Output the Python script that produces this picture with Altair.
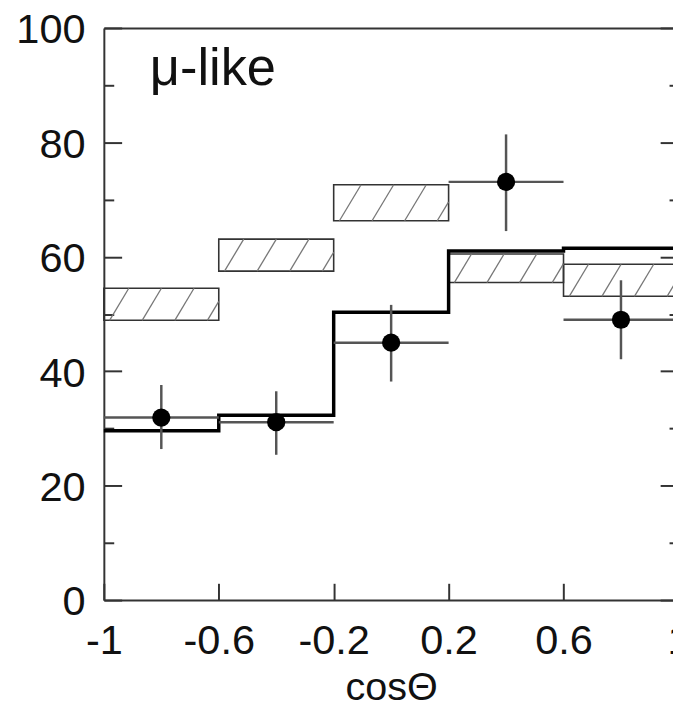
import altair as alt
import pandas as pd

# ---- data ----
bin_lo = [-1.0, -0.6, -0.2, 0.2, 0.6]
bin_hi = [-0.6, -0.2, 0.2, 0.6, 1.0]
bin_center = [-0.8, -0.4, 0.0, 0.4, 0.8]
box_lo = [48.9, 57.5, 66.3, 55.5, 53.1]     # hatched band lower edge
box_hi = [54.5, 63.1, 72.6, 60.5, 58.7]     # hatched band upper edge
thick = [29.6, 32.3, 50.3, 61.0, 61.5]      # thick histogram
data_y = [31.9, 31.1, 45.0, 73.1, 49.0]     # data points
err_lo = [26.4, 25.4, 38.2, 64.5, 42.1]
err_hi = [37.6, 36.5, 51.6, 81.4, 55.9]
edges = [-1.0, -0.6, -0.2, 0.2, 0.6, 1.0]

x_ticks = [-1.0, -0.6, -0.2, 0.2, 0.6, 1.0]
y_major = [0, 20, 40, 60, 80, 100]
y_minor = [10, 30, 50, 70, 90]

# ---- layout constants ----
X_RANGE = 581.5     # full -1..1 span in px (the right edge falls outside the window)
W, H = 576, 579     # visible view
FONT = "Liberation Sans"
INK = "#333"

boxes = pd.DataFrame({"lo": bin_lo, "hi": bin_hi, "ylo": box_lo, "yhi": box_hi})
step = pd.DataFrame({"x": edges, "y": thick + [thick[-1]]})
pts = pd.DataFrame({"xc": bin_center, "lo": bin_lo, "hi": bin_hi,
                    "y": data_y, "elo": err_lo, "ehi": err_hi})

# hatch segments derived from the band boxes (a fill pattern)
px_x = X_RANGE / 2.0
px_y = H / 100.0
spacing = 33 / px_x
rows = []
for x0, x1, lo, hi in zip(bin_lo, bin_hi, box_lo, box_hi):
    dx = 0.6 * (hi - lo) * px_y / px_x
    k = -3
    while True:
        xb = x0 + 0.02 + k * spacing
        k += 1
        if xb > x1:
            break
        t0 = max(0.0, (x0 - xb) / dx)
        t1 = min(1.0, (x1 - xb) / dx)
        if t1 <= t0:
            continue
        rows.append({"x": xb + t0 * dx, "y": lo + t0 * (hi - lo),
                     "x2": xb + t1 * dx, "y2": lo + t1 * (hi - lo)})
hatch = pd.DataFrame(rows)

xs = alt.Scale(domain=[-1, 1], range=[0, X_RANGE], nice=False, zero=False)
ys = alt.Scale(domain=[0, 100], nice=False, zero=False)

# axes: labelled / tick axes drawn inward via negative offsets, spines separate
x_main = alt.Axis(orient="bottom", values=x_ticks, offset=-17, tickSize=17,
                  domain=False, labelPadding=21,
                  labelExpr="'' + datum.value", title="cosΘ",
                  titleBaseline="alphabetic", titleY=118)
x_bottom_spine = alt.Axis(orient="bottom", ticks=False, labels=False,
                          domain=True, title=None)
x_top_spine = alt.Axis(orient="top", ticks=False, labels=False,
                       domain=True, title=None)
y_left = alt.Axis(orient="left", values=y_major, offset=-18, tickSize=18,
                  domain=False, labelPadding=19, labelOffset=2, title=None)
y_left_minor = alt.Axis(orient="left", values=y_minor, offset=-10, tickSize=10,
                        domain=False, labels=False, title=None)
y_left_spine = alt.Axis(orient="left", ticks=False, labels=False,
                        domain=True, title=None)
y_right = alt.Axis(orient="right", values=y_major, offset=-13, tickSize=13,
                   domain=False, labels=False, title=None)
y_right_minor = alt.Axis(orient="right", values=y_minor, offset=-4, tickSize=4,
                         domain=False, labels=False, title=None)

band = alt.Chart(boxes).mark_rect(fill="white", fillOpacity=0, stroke=INK,
                                  strokeWidth=1.6).encode(
    x=alt.X("lo:Q", scale=xs, axis=x_main),
    x2="hi:Q",
    y=alt.Y("ylo:Q", scale=ys, axis=y_left),
    y2="yhi:Q",
)

hatch_l = alt.Chart(hatch).mark_rule(color="#777", strokeWidth=1.3).encode(
    x=alt.X("x:Q", scale=xs, axis=x_bottom_spine),
    x2="x2:Q",
    y=alt.Y("y:Q", scale=ys, axis=y_left_minor),
    y2="y2:Q",
)

hist = alt.Chart(step).mark_line(interpolate="step-after", color="black",
                                 strokeWidth=3.5).encode(
    x=alt.X("x:Q", scale=xs, axis=x_top_spine),
    y=alt.Y("y:Q", scale=ys, axis=y_right),
)

hbar = alt.Chart(pts).mark_rule(color="#555", strokeWidth=2.5).encode(
    x=alt.X("lo:Q", scale=xs, axis=None),
    x2="hi:Q",
    y=alt.Y("y:Q", scale=ys, axis=y_right_minor),
)

vbar = alt.Chart(pts).mark_rule(color="#555", strokeWidth=2.5).encode(
    x=alt.X("xc:Q", scale=xs, axis=None),
    y=alt.Y("elo:Q", scale=ys, axis=y_left_spine),
    y2="ehi:Q",
)

dots = alt.Chart(pts).mark_circle(color="black", opacity=1, size=340).encode(
    x=alt.X("xc:Q", scale=xs, axis=None),
    y=alt.Y("y:Q", scale=ys, axis=None),
)

label = alt.Chart(pd.DataFrame({"x": [-0.84], "y": [90], "t": ["μ-like"]})).mark_text(
    align="left", baseline="alphabetic", font=FONT, fontSize=53, color="#111"
).encode(
    x=alt.X("x:Q", scale=xs, axis=None),
    y=alt.Y("y:Q", scale=ys, axis=None),
    text="t:N",
)

chart = alt.layer(band, hatch_l, hist, hbar, vbar, dots, label).resolve_axis(
    x="independent", y="independent"
).properties(
    width=W, height=H,
    autosize=alt.AutoSizeParams(type="none"),
    padding={"left": 97, "top": 16, "right": 0, "bottom": 106},
).configure_view(
    stroke=None
).configure_axis(
    labelFont=FONT, labelFontSize=42, labelColor="#111", labelFlush=False,
    labelOverlap=False,
    titleFont=FONT, titleFontSize=40, titleFontWeight="normal", titleColor="#111",
    tickColor=INK, tickWidth=2, domainColor=INK, domainWidth=2, grid=False,
)

chart.save("out.html", embed_options={"renderer": "svg", "actions": False})
